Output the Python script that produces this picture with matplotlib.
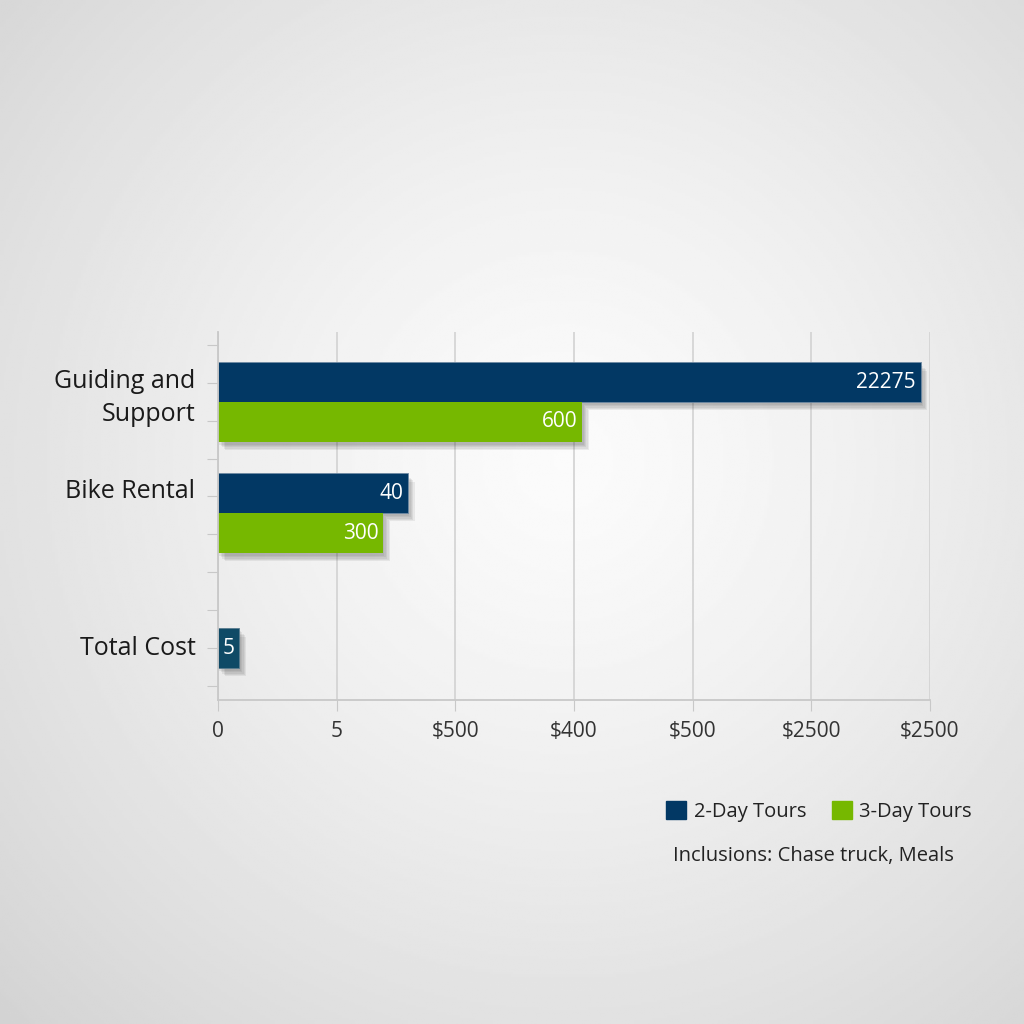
import numpy as np
import matplotlib
matplotlib.use("Agg")
import matplotlib.pyplot as plt
import matplotlib.patheffects as pe
from matplotlib.patches import Patch

plt.rcParams['font.family'] = ['Open Sans', 'DejaVu Sans']

# data (bar lengths in axis tick units)
categories = ['Guiding and\nSupport', 'Bike Rental', 'Total Cost']
two_day = [5.92, 1.60, 0.18]
three_day = [3.07, 1.39, None]
two_day_text = ['22275', '40', '5']
three_day_text = ['600', '300', None]
xtick_labels = ['0', '5', '$500', '$400', '$500', '$2500', '$2500']
series_names = ['2-Day Tours', '3-Day Tours']
note = 'Inclusions: Chase truck, Meals'

navy = '#023864'
green = '#76b800'
teal = '#0f4a66'

fig = plt.figure(figsize=(10.24, 10.24), dpi=100)

# radial grey background
bg = fig.add_axes([0, 0, 1, 1])
yy, xx = np.mgrid[0:1:400j, 0:1:400j]
r = np.sqrt((xx - 0.55) ** 2 + (yy - 0.45) ** 2)
shade = np.clip(0.985 - 0.22 * r ** 1.3, 0.82, 0.985)
bg.imshow(shade, cmap='gray', vmin=0, vmax=1, extent=[0, 1, 0, 1], aspect='auto')
bg.axis('off')

ax = fig.add_axes([0.2129, 0.3164, 0.6953, 0.3594])
ax.patch.set_alpha(0)

group_pos = [1.85, 4.78, 8.34]
label_pos = [1.74, 4.2, 8.34]
h = 1.05
# soft drop shadow, a few faint layers
shadow = [pe.SimplePatchShadow(offset=(o, -o - 1), alpha=0.08, shadow_rgbFace='#333333')
          for o in (1, 2, 3, 4, 5)] + [pe.Normal()]

for i, y in enumerate(group_pos):
    if three_day[i] is None:
        b = ax.barh(y, two_day[i], height=h, color=teal, edgecolor='#5a7d90', linewidth=0.6)
        b[0].set_path_effects(shadow)
        ax.text(two_day[i] / 2, y, two_day_text[i], color='white', fontsize=15,
                ha='center', va='center')
        continue
    b1 = ax.barh(y - h / 2, two_day[i], height=h, color=navy, edgecolor='#6f8aa3', linewidth=0.6)
    b2 = ax.barh(y + h / 2, three_day[i], height=h, color=green)
    b1[0].set_path_effects(shadow)
    b2[0].set_path_effects(shadow)
    ax.text(two_day[i] - 0.04, y - h / 2, two_day_text[i], color='white', fontsize=15,
            ha='right', va='center')
    ax.text(three_day[i] - 0.04, y + h / 2, three_day_text[i], color='white', fontsize=15,
            ha='right', va='center')

for i, y in enumerate(label_pos):
    ax.text(-0.19, y, categories[i], ha='right', va='center', fontsize=18,
            color='#1a1a1a', linespacing=1.4)

ax.set_xlim(0, 6)
ax.set_ylim(9.71, 0)
ax.set_xticks(range(7))
ax.set_xticklabels(xtick_labels, fontsize=15, color='#333333')
ax.set_yticks(np.arange(0.34, 9.5, 1.0))
ax.set_yticklabels([])
ax.tick_params(axis='x', length=8, color='#c8c8c8', pad=7)
ax.tick_params(axis='y', length=8, color='#c8c8c8')
ax.grid(axis='x', color='#d2d2d2', linewidth=1.2)
ax.set_axisbelow(True)
for s in ['top', 'right']:
    ax.spines[s].set_visible(False)
for s in ['left', 'bottom']:
    ax.spines[s].set_color('#c8c8c8')
    ax.spines[s].set_linewidth(1.3)

handles = [Patch(facecolor=navy, edgecolor=navy), Patch(facecolor=green, edgecolor=green)]
fig.legend(handles, series_names, loc='center', bbox_to_anchor=(0.8, 0.2075), ncol=2,
           frameon=False, fontsize=14.5, handlelength=1.0, handleheight=1.0,
           handletextpad=0.35, columnspacing=1.3, labelcolor='#222222')
fig.text(0.7945, 0.164, note, ha='center', va='center', fontsize=14.5, color='#222222')

fig.savefig('out.png', dpi=100)
